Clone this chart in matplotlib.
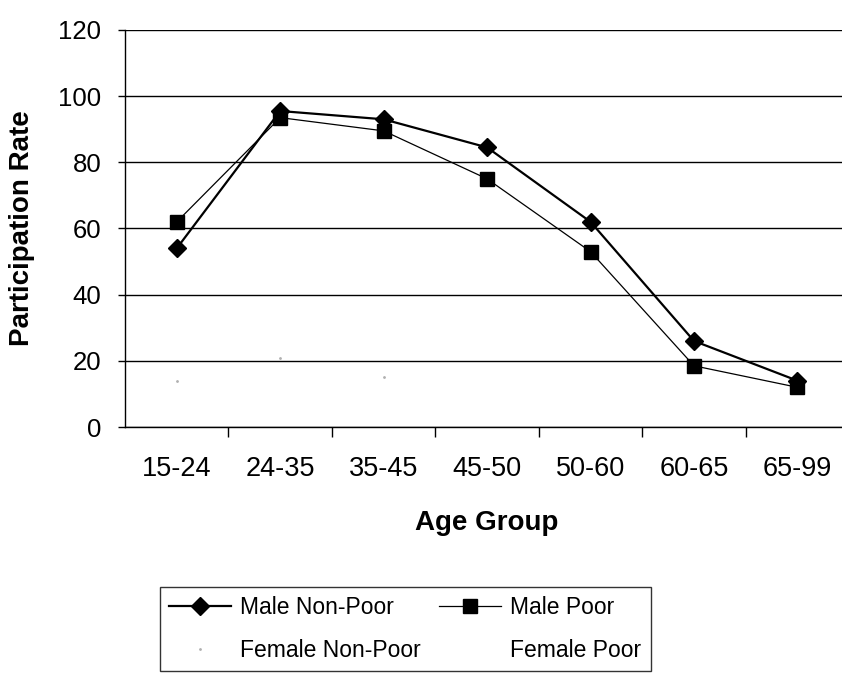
import numpy as np
import matplotlib
matplotlib.use("Agg")
import matplotlib.pyplot as plt
from matplotlib.ticker import FixedLocator

plt.rcParams['font.family'] = ['Liberation Sans', 'DejaVu Sans']

# data
age_groups = ["15-24", "24-35", "35-45", "45-50", "50-60", "60-65", "65-99"]
male_nonpoor = [54, 95.5, 93, 84.5, 62, 26, 14]
male_poor = [62, 93.5, 89.5, 75, 53, 18.5, 12]
# female series are almost washed out in the scan; only a few specks show
female_nonpoor = [14, 21, 15, np.nan, np.nan, np.nan, np.nan]
female_poor = [np.nan] * 7

y_ticks = [0, 20, 40, 60, 80, 100, 120]

fig = plt.figure(figsize=(8.42, 6.73), dpi=100)
ax = fig.add_axes([0.1485, 0.3655, 0.86, 0.59])

x = np.arange(len(age_groups))
h1, = ax.plot(x, male_nonpoor, color='black', lw=1.6, marker='D', ms=9, label='Male Non-Poor')
h2, = ax.plot(x, male_poor, color='black', lw=0.9, marker='s', ms=9.5, label='Male Poor')
h3, = ax.plot(x, female_nonpoor, color='#b0b0b0', lw=0, marker='.', ms=2, label='Female Non-Poor')
h4, = ax.plot(x, female_poor, color='white', lw=0, marker='', label='Female Poor')

ax.set_xlim(-0.5, len(age_groups) - 0.5)
ax.set_ylim(0, 120)
ax.set_yticks(y_ticks)
ax.set_xticks(x)
ax.set_xticklabels(age_groups)
ax.xaxis.set_minor_locator(FixedLocator(np.arange(0.5, len(age_groups) - 0.5, 1)))

ax.yaxis.grid(True, color='black', lw=1.0)
ax.set_axisbelow(True)
for s in ['top', 'right']:
    ax.spines[s].set_visible(False)
ax.spines['left'].set_linewidth(1.0)
ax.spines['bottom'].set_linewidth(1.0)

ax.tick_params(axis='y', direction='out', length=5, width=1, pad=12, labelsize=18.5)
ax.tick_params(axis='x', which='major', length=0, pad=21, labelsize=19.5)
ax.tick_params(axis='x', which='minor', direction='out', length=7, width=1)

ax.set_xlabel('Age Group', fontsize=20, fontweight='bold')
ax.set_ylabel('Participation Rate', fontsize=20, fontweight='bold')
ax.xaxis.set_label_coords(0.5, -0.21)
ax.yaxis.set_label_coords(-0.124, 0.5)

# legend filled row by row like the original: males on top, females below
leg = fig.legend([h1, h3, h2, h4], ['Male Non-Poor', 'Female Non-Poor', 'Male Poor', 'Female Poor'],
                 loc='upper left', bbox_to_anchor=(160 / 842, 1 - 587 / 673), ncol=2,
                 frameon=True, fancybox=False, edgecolor='black', fontsize=16.5,
                 handlelength=2.7, columnspacing=0.8, borderpad=0.4, labelspacing=0.85,
                 handletextpad=0.4, borderaxespad=0)
leg.get_frame().set_linewidth(1.0)

fig.savefig('out.png', dpi=100, facecolor='white')
